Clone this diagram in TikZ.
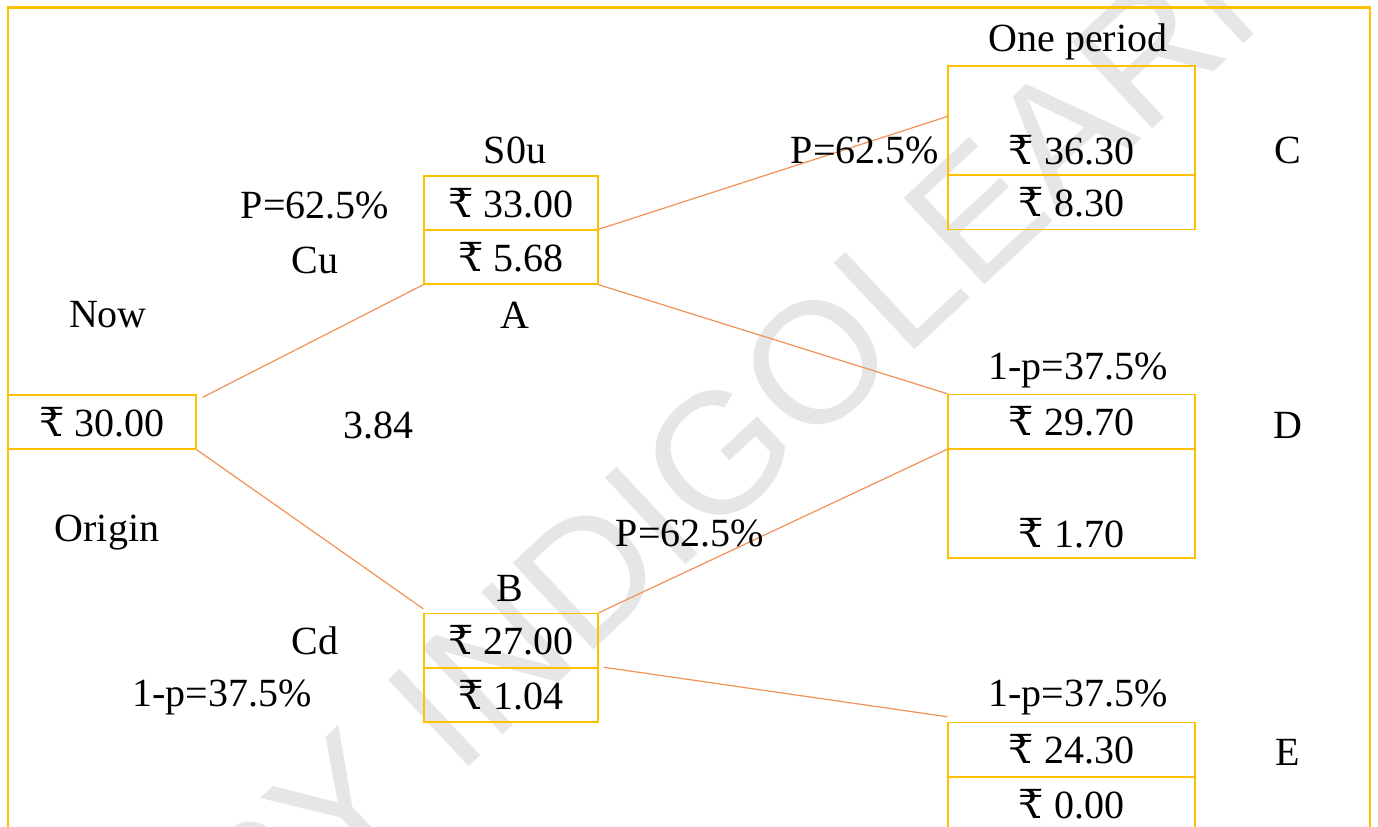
\documentclass[tikz,border=0pt]{standalone}
\usepackage{fontspec}
\setmainfont{Liberation Serif}
\newfontfamily\rsfont{DejaVu Serif}
\newfontfamily\wmfont{Liberation Sans}
\newcommand\rupee{\iffontchar\font"20B9 ₹\else{\rsfont ₹}\fi}
\definecolor{boxgold}{RGB}{255,192,0}
\definecolor{linkorange}{RGB}{242,145,85}
\definecolor{wmgray}{RGB}{230,230,230}
\begin{document}
\begin{tikzpicture}[x=0.5pt,y=-0.5pt,
  every node/.style={inner sep=0pt, font=\fontsize{20}{24}\selectfont},
  cell/.style={draw=boxgold, line width=0.75pt, minimum height=27pt},
  smallcell/.style={cell, minimum width=87pt},
  bigcell/.style={cell, minimum width=123.5pt},
  link/.style={draw=linkorange, line width=0.6pt},
  lbl/.style={}]
\useasboundingbox (0,0) rectangle (1378,826);
\clip (0,0) rectangle (1378,826);
% watermark
\node[rotate=43, text=wmgray, font=\wmfont\fontsize{86}{86}\selectfont] (wm) at (655,512) {COPY INDIGOLEARN};
% frame
\draw[boxgold, line width=1.3pt] (8,840) -- (8,7.5) -- (1370,7.5) -- (1370,840);
% origin
\node[cell, minimum width=94pt] (O) at (102,422) {\rupee\ 30.00};
% A
\node[smallcell] (A1) at (511,203) {\rupee\ 33.00};
\node[smallcell] (A2) at (511,257) {\rupee\ 5.68};
% B
\node[smallcell] (B1) at (511,640.5) {\rupee\ 27.00};
\node[smallcell] (B2) at (511,695) {\rupee\ 1.04};
% C
\node[bigcell, minimum height=54.5pt] (C1) at (1071.5,120.5) {};
\node (C1t) at (1071.5,150) {\rupee\ 36.30};
\node[bigcell] (C2) at (1071.5,202.5) {\rupee\ 8.30};
% D
\node[bigcell] (D1) at (1071.5,421.5) {\rupee\ 29.70};
\node[bigcell, minimum height=54.5pt] (D2) at (1071.5,503.5) {};
\node (D2t) at (1071.5,533) {\rupee\ 1.70};
% E
\node[bigcell] (E1) at (1071.5,749.5) {\rupee\ 24.30};
\node[bigcell] (E2) at (1071.5,804.5) {\rupee\ 0.00};
% connectors
\draw[link] ([xshift=3pt,yshift=-1.5pt]O.north east) -- (A2.south west);
\draw[link] (O.south east) -- ([yshift=2pt]B1.north west);
\draw[link] (A2.north east) -- ([yshift=2pt]C1.west);
\draw[link] (A2.south east) -- (D1.north west);
\draw[link] (B1.north east) -- (D1.south west);
\draw[link] ([xshift=2.5pt]B2.north east) -- ([yshift=2.5pt]E1.north west);
% labels
\node[lbl] (s0u) at (515,150) {S0u};
\node[lbl] (pa) at (315,205) {P=62.5\%};
\node[lbl] (cu) at (315,260) {Cu};
\node[lbl] (now) at (108,315) {Now};
\node[lbl] (la) at (515,315) {A};
\node[lbl] (v) at (378,425) {3.84};
\node[lbl] (orig) at (107,533) {Origin};
\node[lbl] (lb) at (510,588) {B};
\node[lbl] (cd) at (315,641) {Cd};
\node[lbl] (qb) at (222,697) {1-p=37.5\%};
\node[lbl] (pd) at (690,533) {P=62.5\%};
\node[lbl] (pc) at (865,150) {P=62.5\%};
\node[lbl] (per) at (1078,42) {One period};
\node[lbl] (lc) at (1288,150) {C};
\node[lbl] (qd) at (1078,370) {1-p=37.5\%};
\node[lbl] (ld) at (1288,425) {D};
\node[lbl] (qe) at (1078,697) {1-p=37.5\%};
\node[lbl] (le) at (1288,752) {E};
\end{tikzpicture}
\end{document}
